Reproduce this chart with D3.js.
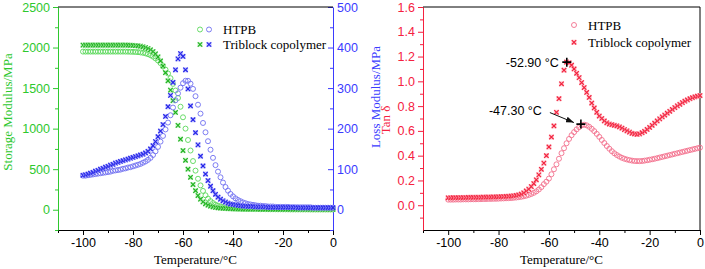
<!DOCTYPE html>
<html>
<head>
<meta charset="utf-8">
<script src="https://cdn.jsdelivr.net/npm/d3@7"></script>
<style>
  body { margin: 0; background: #fff; }
  svg { display: block; }
  .tick text { font-family: "Liberation Sans", Arial, sans-serif; font-size: 12.5px; }
  .serif { font-family: "Liberation Serif", "Times New Roman", serif; font-size: 13px; }
  .sans { font-family: "Liberation Sans", Arial, sans-serif; font-size: 12.5px; }
</style>
</head>
<body>
<svg id="chart" width="705" height="269"></svg>
<script>
// temperature grid (°C)
const temps = [
  -100, -99, -98, -97, -96, -95, -94, -93, -92, -91,
  -90, -89, -88, -87, -86, -85, -84, -83, -82, -81,
  -80, -79, -78, -77, -76, -75, -74, -73, -72, -71,
  -70, -69, -68, -67, -66, -65, -64, -63, -62, -61,
  -60, -59, -58, -57, -56, -55, -54, -53, -52, -51,
  -50, -49, -48, -47, -46, -45, -44, -43, -42, -41,
  -40, -39, -38, -37, -36, -35, -34, -33, -32, -31,
  -30, -29, -28, -27, -26, -25, -24, -23, -22, -21,
  -20, -19, -18, -17, -16, -15, -14, -13, -12, -11,
  -10, -9, -8, -7, -6, -5, -4, -3, -2, -1,
  0
];

// storage modulus, MPa
const storageHTPB = [
  1950, 1950, 1950, 1950, 1950, 1950, 1950, 1950, 1950, 1950,
  1950, 1950, 1950, 1950, 1950, 1950, 1950, 1950, 1949, 1948,
  1947, 1945, 1943, 1940, 1935, 1928, 1918, 1905, 1888, 1866,
  1840, 1808, 1770, 1728, 1680, 1622, 1552, 1470, 1378, 1270,
  1140, 1000, 860, 730, 600, 482, 382, 300, 232, 178,
  137, 106, 82, 63, 50, 40, 33, 28, 24, 21,
  18, 16, 14, 13, 12, 11, 10, 9, 9, 8,
  8, 7, 7, 7, 6, 6, 6, 6, 5, 5,
  5, 5, 5, 4, 4, 4, 4, 4, 4, 4,
  4, 3, 3, 3, 3, 3, 3, 3, 3, 3,
  3
];
const storageTri = [
  2030, 2030, 2030, 2030, 2030, 2030, 2030, 2030, 2030, 2030,
  2030, 2030, 2030, 2030, 2030, 2030, 2030, 2030, 2029, 2028,
  2026, 2024, 2021, 2016, 2009, 2000, 1988, 1972, 1950, 1922,
  1885, 1835, 1772, 1690, 1590, 1475, 1345, 1200, 1040, 870,
  730, 610, 500, 400, 310, 235, 175, 130, 97, 73,
  56, 44, 35, 29, 24, 21, 18, 16, 14, 13,
  12, 11, 10, 9, 8, 8, 7, 7, 6, 6,
  6, 5, 5, 5, 5, 4, 4, 4, 4, 4,
  4, 3, 3, 3, 3, 3, 3, 3, 3, 3,
  3, 3, 3, 3, 3, 3, 3, 3, 3, 3,
  3
];

// loss modulus, MPa
const lossHTPB = [
  84, 84, 85, 86, 87, 88, 89, 90, 91, 92,
  93, 94, 96, 97, 98, 99, 101, 102, 104, 105,
  107, 109, 111, 113, 116, 119, 123, 128, 135, 144,
  155, 168, 182, 198, 215, 233, 252, 270, 287, 301,
  312, 318, 318, 311, 298, 280, 259, 237, 214, 191,
  169, 148, 128, 110, 94, 80, 67, 56, 47, 39,
  33, 28, 24, 21, 18, 16, 14, 13, 12, 11,
  10, 10, 9, 9, 8, 8, 8, 7, 7, 7,
  7, 7, 7, 6, 6, 6, 6, 6, 6, 6,
  6, 6, 5, 5, 5, 5, 5, 5, 5, 5,
  5
];
const lossTri = [
  85, 86, 88, 90, 92, 95, 97, 100, 102, 105,
  107, 110, 112, 115, 117, 119, 121, 123, 125, 127,
  129, 131, 133, 135, 137, 140, 144, 150, 158, 168,
  180, 194, 210, 230, 254, 282, 314, 345, 372, 385,
  378, 345, 298, 256, 222, 190, 160, 132, 108, 88,
  72, 58, 47, 38, 31, 26, 22, 19, 16, 14,
  13, 12, 11, 10, 9, 9, 8, 8, 8, 7,
  7, 7, 7, 7, 6, 6, 6, 6, 6, 6,
  6, 6, 6, 6, 6, 6, 5, 5, 5, 5,
  5, 5, 5, 5, 5, 5, 5, 5, 5, 5,
  5
];

// tan delta
const tanHTPB = [
  0.045, 0.045, 0.045, 0.046, 0.046, 0.046, 0.047, 0.047, 0.047, 0.048,
  0.048, 0.048, 0.049, 0.049, 0.050, 0.050, 0.051, 0.051, 0.052, 0.052,
  0.053, 0.054, 0.055, 0.056, 0.057, 0.058, 0.060, 0.062, 0.065, 0.068,
  0.072, 0.077, 0.083, 0.091, 0.100, 0.112, 0.127, 0.146, 0.170, 0.190,
  0.215, 0.250, 0.290, 0.330, 0.375, 0.420, 0.460, 0.500, 0.535, 0.565,
  0.590, 0.612, 0.630, 0.645, 0.650, 0.645, 0.633, 0.617, 0.598, 0.576,
  0.552, 0.527, 0.502, 0.478, 0.456, 0.436, 0.419, 0.405, 0.393, 0.383,
  0.375, 0.369, 0.364, 0.360, 0.357, 0.356, 0.356, 0.357, 0.360, 0.363,
  0.367, 0.371, 0.375, 0.380, 0.385, 0.390, 0.395, 0.400, 0.405, 0.410,
  0.415, 0.420, 0.425, 0.430, 0.435, 0.440, 0.445, 0.450, 0.455, 0.460,
  0.465
];
const tanTri = [
  0.060, 0.060, 0.061, 0.061, 0.061, 0.062, 0.062, 0.062, 0.063, 0.063,
  0.063, 0.064, 0.064, 0.064, 0.065, 0.065, 0.066, 0.066, 0.067, 0.067,
  0.068, 0.069, 0.070, 0.071, 0.072, 0.074, 0.076, 0.079, 0.083, 0.090,
  0.100, 0.115, 0.130, 0.150, 0.175, 0.205, 0.245, 0.290, 0.340, 0.400,
  0.470, 0.550, 0.640, 0.750, 0.860, 0.980, 1.090, 1.155, 1.150, 1.130,
  1.100, 1.065, 1.030, 0.990, 0.950, 0.910, 0.870, 0.825, 0.785, 0.750,
  0.720, 0.700, 0.680, 0.665, 0.655, 0.650, 0.645, 0.640, 0.632, 0.622,
  0.610, 0.600, 0.590, 0.580, 0.575, 0.572, 0.575, 0.585, 0.597, 0.612,
  0.628, 0.645, 0.662, 0.680, 0.697, 0.713, 0.728, 0.743, 0.758, 0.773,
  0.788, 0.802, 0.815, 0.828, 0.840, 0.850, 0.860, 0.868, 0.875, 0.880,
  0.885
];

// peak annotations
const peakTemps = [-52.9, -47.3];
const peakTans = [1.155, 0.655];
const peakLabels = ['-52.90 \u00B0C', '-47.30 \u00B0C'];

// ticks
const xTicks = [-100, -80, -60, -40, -20, 0];
const xMinor = [-110, -90, -70, -50, -30, -10];
const storageTicks = [0, 500, 1000, 1500, 2000, 2500];
const storageMinor = [-250, 250, 750, 1250, 1750, 2250];
const lossTicks = [0, 100, 200, 300, 400, 500];
const lossMinor = [-50, 50, 150, 250, 350, 450];
const tanTicks = [0, 0.2, 0.4, 0.6, 0.8, 1.0, 1.2, 1.4, 1.6];
const tanMinor = [-0.1, 0.1, 0.3, 0.5, 0.7, 0.9, 1.1, 1.3, 1.5];

const legendNames = ['HTPB', 'Triblock copolymer'];

const green = '#2ec82e', blue = '#3b3bff', red = '#f5213f';

const svg = d3.select('#chart');
const plotTop = 7, plotBottom = 230;

const xL = d3.scaleLinear().domain([-110, 0]).range([58, 333]);
const yStore = d3.scaleLinear().domain([-250, 2500]).range([plotBottom, plotTop]);
const yLoss = d3.scaleLinear().domain([-50, 500]).range([plotBottom, plotTop]);
const xR = d3.scaleLinear().domain([-110, 0]).range([423, 700]);
const yTan = d3.scaleLinear().domain([-0.2, 1.6]).range([plotBottom, plotTop]);

// arrow head
svg.append('defs').append('marker')
    .attr('id', 'arrow')
    .attr('viewBox', '0 0 8 6')
    .attr('refX', 8).attr('refY', 3)
    .attr('markerWidth', 8).attr('markerHeight', 6)
    .attr('markerUnits', 'userSpaceOnUse')
    .attr('orient', 'auto')
    .append('path').attr('d', 'M0,0L8,3L0,6Z').attr('fill', '#111');

function styleAxis(g, color) {
    g.select('.domain').attr('stroke', color);
    g.selectAll('.tick line').attr('stroke', color);
    g.selectAll('.tick text').attr('fill', color);
}

function addAxis(transform, axis, color) {
    const g = svg.append('g').attr('transform', transform).call(axis);
    styleAxis(g, color);
    return g;
}

function minorAxis(transform, axis, color) {
    const g = svg.append('g').attr('transform', transform).call(axis);
    g.select('.domain').remove();
    g.selectAll('.tick line').attr('stroke', color);
}

// open circles
function circles(xs, ys, xs_, ys_, color) {
    svg.append('g').selectAll('circle')
        .data(ys)
        .join('circle')
        .attr('cx', (d, i) => xs_(xs[i]))
        .attr('cy', d => ys_(d))
        .attr('r', 2.5)
        .attr('fill', 'none')
        .attr('stroke', color)
        .attr('stroke-width', 0.9);
}

// boxed crosses
function crosses(xs, ys, xs_, ys_, color, light) {
    const g = svg.append('g').selectAll('g')
        .data(ys)
        .join('g')
        .attr('transform', (d, i) => `translate(${xs_(xs[i])},${ys_(d)})`);
    g.append('rect')
        .attr('x', -2.6).attr('y', -2.6).attr('width', 5.2).attr('height', 5.2)
        .attr('fill', light).attr('opacity', 0.6);
    g.append('path')
        .attr('d', 'M-2.2,-2.2L2.2,2.2M-2.2,2.2L2.2,-2.2')
        .attr('stroke', color).attr('stroke-width', 1.2);
}

const fmtInt = d => String(d);

// ---------- left panel ----------
addAxis(`translate(0,${plotBottom})`,
    d3.axisBottom(xL).tickValues(xTicks).tickSize(5).tickSizeOuter(0).tickPadding(3).tickFormat(fmtInt), '#000');
minorAxis(`translate(0,${plotBottom})`, d3.axisBottom(xL).tickValues(xMinor).tickSize(3).tickFormat(''), '#000');

addAxis('translate(58,0)',
    d3.axisLeft(yStore).tickValues(storageTicks).tickSize(5).tickSizeOuter(0).tickPadding(3).tickFormat(fmtInt), green);
minorAxis('translate(58,0)', d3.axisLeft(yStore).tickValues(storageMinor).tickSize(3).tickFormat(''), green);

addAxis('translate(333,0)',
    d3.axisRight(yLoss).tickValues(lossTicks).tickSize(-5).tickSizeOuter(0).tickPadding(4).tickFormat(fmtInt), blue);
minorAxis('translate(333,0)', d3.axisRight(yLoss).tickValues(lossMinor).tickSize(-3).tickFormat(''), blue);

svg.append('line')
    .attr('x1', xL.range()[0]).attr('x2', xL.range()[1])
    .attr('y1', plotTop).attr('y2', plotTop)
    .attr('stroke', '#000');

circles(temps, storageHTPB, xL, yStore, '#5ad85a');
crosses(temps, storageTri, xL, yStore, '#1fb21f', '#b6efb6');
circles(temps, lossHTPB, xL, yLoss, '#6f6ff0');
crosses(temps, lossTri, xL, yLoss, '#2626e8', '#a9a9ff');

// left legend
svg.append('circle').attr('cx', 200).attr('cy', 29.5).attr('r', 2.5)
    .attr('fill', 'none').attr('stroke', '#5ad85a').attr('stroke-width', 0.9);
svg.append('circle').attr('cx', 209).attr('cy', 29.5).attr('r', 2.5)
    .attr('fill', 'none').attr('stroke', '#6f6ff0').attr('stroke-width', 0.9);
crosses([0], [44.5], () => 200, d => d, '#1fb21f', '#b6efb6');
crosses([0], [44.5], () => 209, d => d, '#2626e8', '#a9a9ff');
svg.append('text').attr('class', 'serif').attr('x', 223).attr('y', 34).text(legendNames[0]);
svg.append('text').attr('class', 'serif').attr('x', 223).attr('y', 49).text(legendNames[1]);

// axis titles
svg.append('text').attr('class', 'serif')
    .attr('text-anchor', 'middle')
    .attr('x', (xL.range()[0] + xL.range()[1]) / 2).attr('y', 264)
    .text('Temperature/\u00B0C');
svg.append('text').attr('class', 'serif')
    .attr('text-anchor', 'middle').attr('fill', green)
    .attr('transform', 'translate(12,112) rotate(-90)')
    .text('Storage Modulus/MPa');
svg.append('text').attr('class', 'serif')
    .attr('text-anchor', 'middle').attr('fill', blue)
    .attr('transform', 'translate(380,97) rotate(-90)')
    .text('Loss Modulus/MPa');

// ---------- right panel ----------
addAxis(`translate(0,${plotBottom})`,
    d3.axisBottom(xR).tickValues(xTicks).tickSize(5).tickSizeOuter(0).tickPadding(3).tickFormat(fmtInt), '#000');
minorAxis(`translate(0,${plotBottom})`, d3.axisBottom(xR).tickValues(xMinor).tickSize(3).tickFormat(''), '#000');

addAxis('translate(423,0)',
    d3.axisLeft(yTan).tickValues(tanTicks).tickSize(5).tickSizeOuter(0).tickPadding(3).tickFormat(d3.format('.1f')), red);
minorAxis('translate(423,0)', d3.axisLeft(yTan).tickValues(tanMinor).tickSize(3).tickFormat(''), red);

svg.append('path')
    .attr('d', `M${xR.range()[0]},${plotTop}H${xR.range()[1]}V${plotBottom}`)
    .attr('fill', 'none').attr('stroke', '#000');

circles(temps, tanHTPB, xR, yTan, '#f36f8c');
crosses(temps, tanTri, xR, yTan, '#f2243f', '#ffb0bc');

// right legend
svg.append('circle').attr('cx', 574).attr('cy', 25).attr('r', 2.5)
    .attr('fill', 'none').attr('stroke', '#f36f8c').attr('stroke-width', 0.9);
crosses([0], [42.3], () => 574, d => d, '#f2243f', '#ffb0bc');
svg.append('text').attr('class', 'serif').attr('x', 588).attr('y', 29.5).text(legendNames[0]);
svg.append('text').attr('class', 'serif').attr('x', 588).attr('y', 46.5).text(legendNames[1]);

svg.append('text').attr('class', 'serif')
    .attr('text-anchor', 'middle')
    .attr('x', (xR.range()[0] + xR.range()[1]) / 2).attr('y', 264)
    .text('Temperature/\u00B0C');
svg.append('text').attr('class', 'serif')
    .attr('text-anchor', 'middle').attr('fill', red)
    .attr('transform', 'translate(390,120) rotate(-90)')
    .text('Tan \u03B4');

// peak markers and labels
peakTemps.forEach((t, i) => {
    const px = xR(t), py = yTan(peakTans[i]);
    svg.append('path')
        .attr('d', `M${px - 4.5},${py}H${px + 4.5}M${px},${py - 4.5}V${py + 4.5}`)
        .attr('stroke', '#000').attr('stroke-width', 1.6);
});
svg.append('text').attr('class', 'sans')
    .attr('text-anchor', 'end')
    .attr('x', xR(peakTemps[0]) - 8).attr('y', yTan(peakTans[0]) + 5)
    .text(peakLabels[0]);
svg.append('text').attr('class', 'sans')
    .attr('text-anchor', 'end')
    .attr('x', xR(peakTemps[1]) - 39).attr('y', yTan(peakTans[1]) - 9.5)
    .text(peakLabels[1]);
svg.append('line')
    .attr('x1', xR(peakTemps[1]) - 31).attr('y1', yTan(peakTans[1]) - 11.5)
    .attr('x2', xR(peakTemps[1]) - 7).attr('y2', yTan(peakTans[1]) - 1.5)
    .attr('stroke', '#111').attr('stroke-width', 1)
    .attr('marker-end', 'url(#arrow)');
</script>
</body>
</html>
